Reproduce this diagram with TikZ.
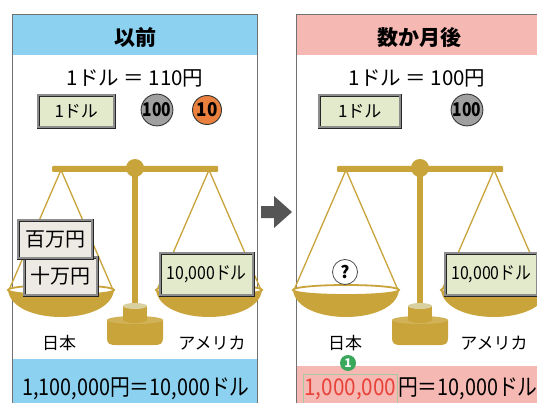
\documentclass[tikz,border=0pt]{standalone}
\usepackage{graphicx}
\usepackage{fontspec}
\setmainfont{Noto Sans CJK JP}
\usetikzlibrary{calc}

\definecolor{goldc}{HTML}{C9A43A}
\definecolor{goldlight}{HTML}{D9D0A0}
\definecolor{hdrblue}{HTML}{8CD2F0}
\definecolor{hdrpink}{HTML}{F5B8B2}
\definecolor{billgreen}{HTML}{E3EACC}
\definecolor{billbeige}{HTML}{ECEAE2}
\definecolor{coingray}{HTML}{A0A0A0}
\definecolor{coinorange}{HTML}{E9803E}
\definecolor{framegray}{HTML}{707070}
\definecolor{redtext}{HTML}{E8423A}
\definecolor{markgreen}{HTML}{3AA85A}
\definecolor{boxgreen}{HTML}{A8C8A0}
\definecolor{arrowgray}{HTML}{555555}

\newcommand\pxsize[1]{\fontsize{#1}{#1}\selectfont}
\newcommand\narrow[2]{\scalebox{#1}[1]{#2}}

\tikzset{
  panelframe/.style={draw=framegray, line width=1.2pt, inner sep=0pt, anchor=north west},
  hdrtext/.style={font=\pxsize{21}\bfseries, inner sep=0pt},
  ratetext/.style={font=\pxsize{20.5}, inner sep=0pt},
  bill/.style={draw=black!85, double=black!45, double distance=2.2pt, line width=0.5pt,
               inner sep=0pt, anchor=north west},
  dollarbill/.style={bill, fill=billgreen},
  yenbill/.style={bill, fill=billbeige},
  coin/.style={circle, draw=black!80, line width=0.9pt, inner sep=0pt, font=\pxsize{19}\bfseries},
  place/.style={font=\pxsize{17}, inner sep=0pt},
  sumtext/.style={font=\pxsize{23}, inner sep=0pt},
  string/.style={draw=goldc, line width=1.3pt},
  balance/.pic={
    % hanging strings
    \draw[string] (61,170) -- (9,290);
    \draw[string] (61,170) -- (113,290);
    \draw[string] (209,170) -- (157,290);
    \draw[string] (209,170) -- (261,290);
    % post and beam
    \fill[goldc] (132,168) rectangle (138,306);
    \fill[goldc, rounded corners=1pt] (52,166) rectangle (218,172);
    \fill[goldc] (135,168) circle[radius=9];
    % pedestal
    \fill[goldc] (107,320) -- (107,338) .. controls (107,344) and (110,345) .. (116,345)
      -- (154,345) .. controls (160,345) and (163,344) .. (163,338) -- (163,320) -- cycle;
    \fill[goldc!85!white] (135,320) ellipse[x radius=28, y radius=4];
    \fill[goldc] (123,306) rectangle (147,320);
    \fill[goldc] (135,320) ellipse[x radius=12, y radius=3];
    \fill[goldlight] (135,306) ellipse[x radius=12, y radius=3];
    % pans
    \fill[goldc] (8,290) .. controls (12,326) and (110,326) .. (114,290) -- cycle;
    \draw[goldc, line width=1.8pt, fill=white] (61,290) ellipse[x radius=53, y radius=5];
    \fill[goldc] (156,290) .. controls (160,326) and (258,326) .. (262,290) -- cycle;
    \draw[goldc, line width=1.8pt, fill=white] (209,290) ellipse[x radius=53, y radius=5];
  }
}

\begin{document}
\begin{tikzpicture}[x=1pt, y=-1pt]
\useasboundingbox (0,0) rectangle (537,403);
\clip (0,0) rectangle (537,403);
\fill[white] (0,0) rectangle (537,403);

% header and footer bands
\fill[hdrblue] (12,14) rectangle (257,55);
\fill[hdrblue] (12,359) rectangle (257,410);
\fill[hdrpink] (296,14) rectangle (545,55);
\fill[hdrpink] (296,366) rectangle (545,410);

% panel frames
\node[panelframe, minimum width=245pt, minimum height=396pt] (lpanel) at (12,14) {};
\node[panelframe, minimum width=249pt, minimum height=396pt] (rpanel) at (296,14) {};

% headers
\node[hdrtext] (lhdr) at (135,38) {以前};
\node[hdrtext] (rhdr) at (419,38) {数か月後};

% exchange rates
\node[ratetext] (lrate) at (135,78) {1ドル ＝ 110円};
\node[ratetext] (rrate) at (417,78) {1ドル ＝ 100円};

% dollar bills and coins
\node[dollarbill, minimum width=76pt, minimum height=32pt, font=\pxsize{17}] (lbill) at (38,95) {1ドル};
\node[coin, fill=coingray, minimum size=30pt] (lc100) at (157,110) {\narrow{0.82}{100}};
\node[coin, fill=coinorange, minimum size=29pt] (lc10) at (207,110) {\narrow{0.9}{10}};

\node[dollarbill, minimum width=81pt, minimum height=32pt, font=\pxsize{17}] (rbill) at (319,95) {1ドル};
\node[coin, fill=coingray, minimum size=30pt] (rc100) at (467,110) {\narrow{0.82}{100}};

% arrow between the panels
\fill[arrowgray] (261,206) -- (274,206) -- (274,196) -- (292,212) -- (274,228)
  -- (274,218) -- (261,218) -- cycle;

% balances
\pic at (0,0) {balance};
\pic at (285,0) {balance};

% contents of the pans
\node[yenbill, minimum width=73pt, minimum height=38pt, font=\pxsize{20}] (jyuman) at (24,257) {十万円};
\node[yenbill, minimum width=74pt, minimum height=38pt, font=\pxsize{20}] (hyakuman) at (18,220) {百万円};
\node[dollarbill, minimum width=93pt, minimum height=42pt, font=\pxsize{18}] (lusd) at (160,253) {\narrow{0.88}{10,000ドル}};

\node[circle, draw=black!70, line width=0.8pt, fill=white, minimum size=25pt, inner sep=0pt,
      font=\pxsize{17}\bfseries] (qmark) at (345,272) {?};
\node[dollarbill, minimum width=92pt, minimum height=42pt, font=\pxsize{18}] (rusd) at (445,253) {\narrow{0.88}{10,000ドル}};

% country labels
\node[place] (ljp) at (59,343) {日本};
\node[place] (lus) at (212,343) {アメリカ};
\node[place] (rjp) at (345,343) {日本};
\node[place] (rus) at (494,343) {アメリカ};

% totals
\node[sumtext] (lsum) at (136,389) {\narrow{0.86}{1,100,000円＝10,000ドル}};

\node[draw=boxgreen, line width=0.8pt, fill=hdrpink, anchor=north west, inner sep=0pt,
      minimum width=94pt, minimum height=36pt] (newyen) at (303,374) {};
\node[sumtext, text=redtext] (newyentext) at ($(newyen.west)!0.5!(newyen.east)+(0,-3)$) {\narrow{0.9}{1,000,000}};
\node[sumtext, anchor=west] (rsum) at (398,389) {\narrow{0.86}{円＝10,000ドル}};
\node[circle, fill=markgreen, minimum size=16pt, inner sep=0pt, text=white,
      font=\pxsize{12}\bfseries] (mark) at (348,363) {1};
\end{tikzpicture}
\end{document}
